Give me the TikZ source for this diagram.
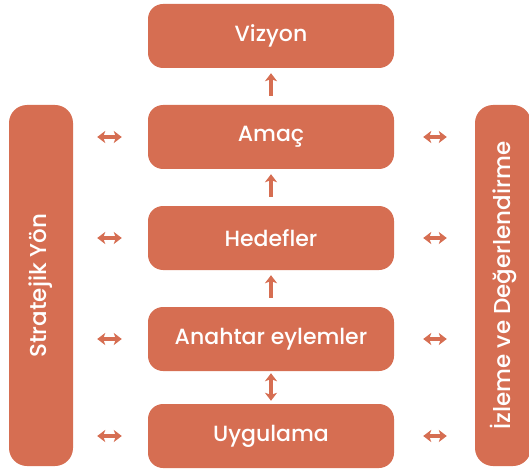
\documentclass[tikz,border=0pt]{standalone}
\usepackage{fontspec}
\setmainfont{Poppins}[UprightFont={* Medium}]
\usepackage{xcolor}
\usepackage{tikz}
\usetikzlibrary{arrows.meta}

\definecolor{terra}{RGB}{214,110,82}

\begin{document}
\begin{tikzpicture}[x=1pt,y=-1pt,
    every node/.style={rounded corners=15pt,fill=terra,text=white,font=\fontsize{22}{26}\selectfont},
    box/.style={minimum width=246pt,minimum height=64pt},
    bar/.style={rotate=90,minimum width=361pt,rounded corners=18pt,font=\fontsize{23}{27}\selectfont},
    link/.style={draw=terra,line width=3.5pt,arrows={-Stealth[length=8pt,width=12pt,inset=2pt]}},
    both/.style={link,arrows={Stealth[length=8pt,width=12pt,inset=2pt]-Stealth[length=8pt,width=12pt,inset=2pt]}}]
  	\useasboundingbox (0,0) rectangle (529,470);

  	\node[box] (a1) at (271,36) {Vizyon};
  	\node[box] (a2) at (271,137) {Amaç};
  	\node[box] (a3) at (271,238) {Hedefler};
  	\node[box] (a4) at (271,339) {Anahtar eylemler};
  	\node[box] (a5) at (271,436) {Uygulama};

  	\node[bar,minimum height=64pt] (lbar) at (41,285.5) {Stratejik Yön};
  	\node[bar,minimum height=56pt] (rbar) at (503,285.5) {İzleme ve Değerlendirme};

  	\draw[link,shorten <=9pt,shorten >=5pt] (a2) -- (a1);
  	\draw[link,shorten <=9pt,shorten >=5pt] (a3) -- (a2);
  	\draw[link,shorten <=9pt,shorten >=5pt] (a4) -- (a3);
  	\draw[both,shorten <=2pt,shorten >=3pt] (a4) -- (a5);

  	\foreach \i in {2,3,4,5} {
  	  \draw[both,shorten <=24pt,shorten >=26pt] (a\i -| lbar.south) -- (a\i.west);
  	  \draw[both,shorten <=29pt,shorten >=28pt] (a\i.east) -- (a\i -| rbar.north);
  	}
\end{tikzpicture}
\end{document}
